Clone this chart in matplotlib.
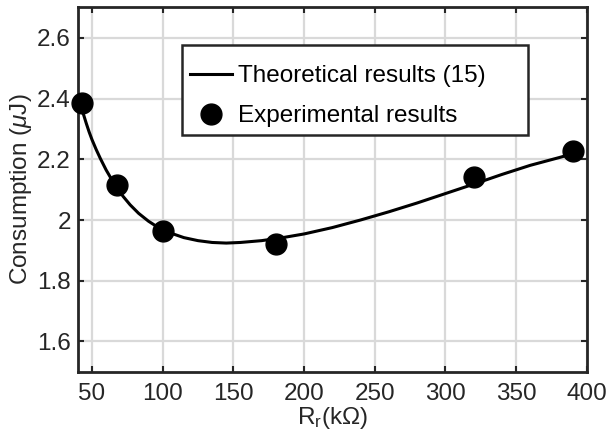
import matplotlib
matplotlib.use("Agg")
import matplotlib.pyplot as plt
from matplotlib.patches import Rectangle

plt.rcParams["font.family"] = ["Liberation Sans", "DejaVu Sans"]
plt.rcParams["mathtext.fontset"] = "custom"
plt.rcParams["mathtext.rm"] = "Liberation Sans"
plt.rcParams["mathtext.it"] = "Liberation Sans:italic"

# theoretical curve
theory_r = [43, 44, 46, 48, 50, 53, 56, 60, 64, 68, 72, 77, 83, 90, 97, 105, 115,
            125, 135, 145, 155, 170, 185, 200, 220, 240, 260, 280, 300, 320, 340,
            360, 380, 390]
theory_e = [2.365, 2.348, 2.318, 2.29, 2.265, 2.232, 2.202, 2.165, 2.133, 2.104,
            2.078, 2.05, 2.022, 1.996, 1.975, 1.958, 1.942, 1.932, 1.926, 1.924,
            1.926, 1.932, 1.942, 1.954, 1.975, 2.0, 2.027, 2.056, 2.087, 2.118,
            2.15, 2.18, 2.205, 2.218]

# measured points
exp_r = [43, 68, 100, 180, 320, 390]
exp_e = [2.386, 2.116, 1.965, 1.92, 2.143, 2.226]

xticks = [50, 100, 150, 200, 250, 300, 350, 400]
yticks = [1.6, 1.8, 2.0, 2.2, 2.4, 2.6]
ytick_labels = ["1.6", "1.8", "2", "2.2", "2.4", "2.6"]

fs = 17.5

fig = plt.figure(figsize=(6.08, 4.4), dpi=100)
ax = fig.add_axes([0.128, 0.155, 0.837, 0.828])

ax.plot(theory_r, theory_e, color="black", lw=2.2,
        label="Theoretical results (15)", zorder=3)
ax.plot(exp_r, exp_e, "o", color="black", ms=15, ls="none",
        label="Experimental results", zorder=4, clip_on=False)

ax.set_xlim(40, 400)
ax.set_ylim(1.5, 2.7)
ax.set_xticks(xticks)
ax.set_yticks(yticks)
ax.set_yticklabels(ytick_labels)
ax.grid(True, color="#d9d9d9", lw=1.6)
ax.set_axisbelow(True)
ax.tick_params(direction="in", length=4, width=1.5, top=True, right=True,
               labelsize=fs, colors="#262626")
ax.tick_params(axis="x", pad=8)
ax.tick_params(axis="y", pad=5)
for sp in ax.spines.values():
    sp.set_linewidth(2)
    sp.set_color("#262626")

ax.set_xlabel(r"R$_\mathrm{r}$(k$\Omega$)", fontsize=fs, color="#262626", labelpad=0)
ax.set_ylabel(r"Consumption ($\mu$J)", fontsize=fs, color="#262626", labelpad=2)

# legend box drawn separately so it can be wider/taller than its content
box = Rectangle((0.204, 0.650), 0.680, 0.247, transform=ax.transAxes,
                facecolor="white", edgecolor="#262626", lw=1.8, zorder=5)
ax.add_patch(box)
leg = ax.legend(loc="upper left", bbox_to_anchor=(0.220, 0.841), fontsize=fs,
                frameon=False, borderpad=0, labelspacing=0.74,
                handlelength=1.72, handletextpad=0.26, borderaxespad=0)
leg.set_zorder(6)

fig.savefig("out.png", dpi=100)
